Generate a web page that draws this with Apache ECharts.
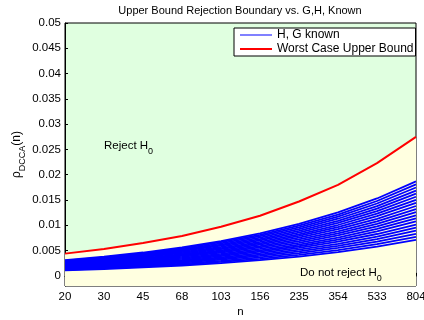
<!DOCTYPE html>
<html><head><meta charset="utf-8">
<script src="https://cdn.jsdelivr.net/npm/echarts@6/dist/echarts.min.js"></script>
<style>html,body{margin:0;padding:0;background:#fff}#c{width:424px;height:320px}</style>
</head><body><div id="c"></div>
<script>
var nValues = ['20','30','45','68','103','156','235','354','533','804'];
var yTicks = [0,0.005,0.01,0.015,0.02,0.025,0.03,0.035,0.04,0.045,0.05];
var worstCase = [0.0044,0.0053,0.0065,0.0079,0.0097,0.0119,0.0147,0.0180,0.0223,0.0275];
var blueLines = [
[0.00110,0.00136,0.00167,0.00205,0.00252,0.00310,0.00382,0.00469,0.00577,0.00710],
[0.00121,0.00149,0.00183,0.00224,0.00275,0.00338,0.00416,0.00510,0.00627,0.00771],
[0.00131,0.00162,0.00198,0.00243,0.00298,0.00366,0.00450,0.00552,0.00677,0.00832],
[0.00142,0.00174,0.00214,0.00262,0.00321,0.00394,0.00484,0.00593,0.00728,0.00893],
[0.00152,0.00187,0.00229,0.00281,0.00344,0.00422,0.00518,0.00634,0.00778,0.00954],
[0.00163,0.00200,0.00245,0.00299,0.00367,0.00450,0.00552,0.00676,0.00828,0.01015],
[0.00173,0.00213,0.00260,0.00318,0.00390,0.00478,0.00586,0.00717,0.00878,0.01076],
[0.00184,0.00226,0.00276,0.00337,0.00413,0.00506,0.00620,0.00758,0.00929,0.01137],
[0.00194,0.00238,0.00291,0.00356,0.00436,0.00534,0.00654,0.00800,0.00979,0.01198],
[0.00205,0.00251,0.00307,0.00375,0.00459,0.00562,0.00688,0.00841,0.01029,0.01259],
[0.00215,0.00264,0.00322,0.00394,0.00482,0.00590,0.00722,0.00882,0.01079,0.01320],
[0.00226,0.00277,0.00338,0.00413,0.00505,0.00617,0.00755,0.00924,0.01129,0.01382],
[0.00236,0.00290,0.00353,0.00432,0.00528,0.00645,0.00789,0.00965,0.01180,0.01443],
[0.00247,0.00302,0.00369,0.00451,0.00551,0.00673,0.00823,0.01006,0.01230,0.01504],
[0.00257,0.00315,0.00384,0.00470,0.00574,0.00701,0.00857,0.01048,0.01280,0.01565],
[0.00268,0.00328,0.00400,0.00488,0.00597,0.00729,0.00891,0.01089,0.01330,0.01626],
[0.00279,0.00341,0.00416,0.00507,0.00620,0.00757,0.00925,0.01130,0.01380,0.01687],
[0.00289,0.00353,0.00431,0.00526,0.00643,0.00785,0.00959,0.01171,0.01431,0.01748],
[0.00300,0.00366,0.00447,0.00545,0.00666,0.00813,0.00993,0.01213,0.01481,0.01809],
[0.00310,0.00379,0.00462,0.00564,0.00689,0.00841,0.01027,0.01254,0.01531,0.01870]
];
var FONT = 'Liberation Sans, Arial, sans-serif';
var chart = echarts.init(document.getElementById('c'), null, {renderer:'canvas'});
var series = [{
  name: 'Worst Case Upper Bound', type: 'line', data: worstCase, symbol: 'none',
  lineStyle: {color: '#ff0000', width: 2}, itemStyle: {color: '#ff0000'},
  areaStyle: {color: '#ffffe0', opacity: 1, origin: 'start'}, z: 2
}];
blueLines.forEach(function (d) {
  series.push({name: 'H, G known', type: 'line', data: d, symbol: 'none',
    lineStyle: {color: '#0000ff', width: 1.8}, itemStyle: {color: '#0000ff'}, z: 3});
});
chart.setOption({
  animation: false,
  textStyle: {fontFamily: FONT},
  grid: {left: 65, right: 8, top: 23, bottom: 34, outerBoundsMode: 'none', containLabel: false,
    show: true, backgroundColor: '#e0ffe0', borderColor: '#000', borderWidth: 1},
  legend: {
    data: [{name: 'H, G known', icon: 'path://M0,0H32V1H0Z'},
           {name: 'Worst Case Upper Bound', icon: 'path://M0,0H32V2H0Z'}],
    orient: 'vertical', left: 234, top: 28,
    itemWidth: 32, itemHeight: 13, itemGap: 2, padding: [1, 2, 1, 6],
    backgroundColor: '#fff', borderColor: '#000', borderWidth: 1, borderRadius: 0,
    textStyle: {fontSize: 12, color: '#000', fontFamily: FONT}
  },
  xAxis: {
    type: 'category', data: nValues, boundaryGap: false,
    name: 'n', nameLocation: 'middle', nameGap: 20, nameMoveOverlap: false,
    nameTextStyle: {fontSize: 11.5, color: '#000', fontFamily: FONT},
    axisLine: {lineStyle: {color: '#000'}},
    axisTick: {inside: true, length: 3, lineStyle: {color: '#000'}},
    axisLabel: {fontSize: 11.5, color: '#000', margin: 5, fontFamily: FONT},
    splitLine: {show: false}
  },
  yAxis: {
    type: 'value', min: -0.002, max: 0.05,
    name: '{a|ρ}{b|DCCA}{a|(n)}', nameLocation: 'middle', nameRotate: 90, nameGap: 38,
    nameMoveOverlap: false,
    nameTextStyle: {color: '#000', rich: {
      a: {fontSize: 12, lineHeight: 20, color: '#000', fontFamily: FONT},
      b: {fontSize: 9, lineHeight: 9, verticalAlign: 'bottom', color: '#000', fontFamily: FONT}
    }},
    axisLine: {show: true, lineStyle: {color: '#000'}},
    axisTick: {show: true, inside: true, length: 3, customValues: yTicks, lineStyle: {color: '#000'}},
    axisLabel: {fontSize: 11.5, color: '#000', margin: 4, customValues: yTicks, fontFamily: FONT,
      formatter: function (v) { return String(v); }},
    splitLine: {show: false}
  },
  graphic: [
    {type: 'text', x: 240, y: 11, style: {text: 'Upper Bound Rejection Boundary vs. G,H, Known',
      fontSize: 11, fontFamily: FONT, fill: '#000', textAlign: 'center', textVerticalAlign: 'middle'}},
    {type: 'text', x: 104, y: 136, z: 10, style: {text: '{a|Reject H}{s|0}', rich: {
      a: {fontSize: 11.5, lineHeight: 20, fontFamily: FONT, fill: '#000'},
      s: {fontSize: 9, lineHeight: 9, verticalAlign: 'bottom', fontFamily: FONT, fill: '#000'}}}},
    {type: 'text', x: 300, y: 263, z: 10, style: {text: '{a|Do not reject H}{s|0}', rich: {
      a: {fontSize: 11.5, lineHeight: 20, fontFamily: FONT, fill: '#000'},
      s: {fontSize: 9, lineHeight: 9, verticalAlign: 'bottom', fontFamily: FONT, fill: '#000'}}}}
  ],
  series: series
});
</script></body></html>
